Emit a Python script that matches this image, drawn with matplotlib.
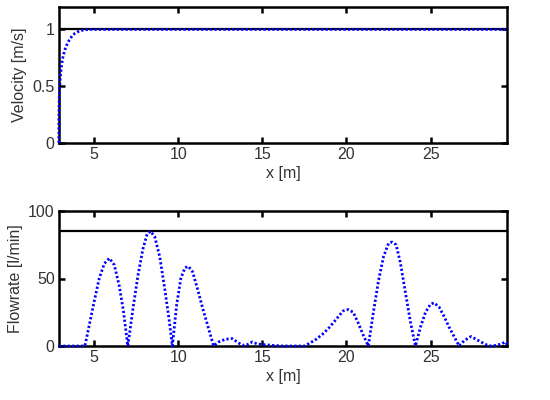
import matplotlib
matplotlib.use('Agg')
import matplotlib.pyplot as plt

# velocity along x (top panel)
vel_x = [2.9, 2.9, 2.91, 2.93, 2.96, 3.0, 3.05, 3.12, 3.2, 3.3, 3.42, 3.55, 3.7, 3.85,
         4.0, 4.2, 4.4, 4.7, 5.2, 29.55]
vel_y = [0.0, 0.2, 0.3, 0.42, 0.52, 0.6, 0.67, 0.74, 0.79, 0.84, 0.88, 0.915, 0.945, 0.965,
         0.978, 0.99, 0.996, 1.0, 1.0, 1.0]
vel_ref = 1.0

# flowrate along x (bottom panel)
flow_x = [2.9, 4.45, 4.7, 5.0, 5.3, 5.6, 5.9, 6.2, 6.5, 6.75, 7.0,
          7.3, 7.6, 7.9, 8.15, 8.35, 8.6, 8.9, 9.2, 9.45, 9.65,
          9.9, 10.15, 10.4, 10.6, 10.85, 11.15, 11.45, 11.8, 12.1,
          12.4, 12.8, 13.2, 13.5, 13.8, 14.1, 14.4, 14.7, 15.1, 15.6, 16.2, 17.5,
          17.8, 18.2, 18.6, 19.0, 19.4, 19.8, 20.1, 20.4, 20.7, 21.0, 21.3,
          21.6, 21.9, 22.2, 22.5, 22.7, 22.95, 23.2, 23.5, 23.8, 24.1,
          24.4, 24.7, 25.0, 25.2, 25.5, 25.8, 26.1, 26.4, 26.7,
          27.0, 27.4, 27.7, 28.0, 28.3, 28.6, 28.9, 29.2, 29.45, 29.55]
flow_y = [0, 0, 15, 33, 50, 61, 65, 60, 44, 25, 0,
          27, 52, 72, 83, 85, 81, 66, 42, 20, 0,
          30, 50, 58, 59, 55, 42, 28, 13, 0,
          3, 5, 5.5, 3, 0.5, 1, 3, 1.5, 1, 0.5, 0, 0,
          2, 5, 9, 14, 20, 26, 27, 25, 17, 8, 0,
          25, 48, 66, 76, 77, 75, 62, 40, 18, 0,
          14, 25, 31, 32, 29, 22, 14, 7, 0,
          4, 7, 5, 3, 1, 0, 0.5, 1.5, 3, 1]
flow_ref = 85

plt.rcParams['font.family'] = ['Liberation Sans', 'DejaVu Sans']
fs = 11.5
txt = '#333333'

fig = plt.figure(figsize=(5.5, 4), dpi=100)
ax1 = fig.add_axes([0.107, 0.643, 0.815, 0.340])
ax2 = fig.add_axes([0.107, 0.135, 0.815, 0.3375])


def style(ax):
    for s in ax.spines.values():
        s.set_linewidth(1.8)
        s.set_color('black')
    ax.tick_params(direction='in', top=True, right=True, length=4, width=1.8,
                   colors='black', labelcolor=txt, labelsize=fs, pad=3)
    ax.set_xlim(2.9, 29.55)
    ax.set_xticks([5, 10, 15, 20, 25])
    ax.set_xlabel('x [m]', color=txt, fontsize=fs, labelpad=3)


ax1.axhline(vel_ref, color='black', lw=1.6)
ax1.plot(vel_x, vel_y, color='#0000ff', lw=2, linestyle=(0, (0.8, 0.8)),
         zorder=3, clip_on=False)
ax1.set_ylim(0, 1.2)
ax1.set_yticks([0, 0.5, 1])
ax1.set_yticklabels(['0', '0.5', '1'])
ax1.set_ylabel('Velocity [m/s]', color=txt, fontsize=fs, labelpad=4)
style(ax1)

ax2.axhline(flow_ref, color='black', lw=1.6)
ax2.plot(flow_x, flow_y, color='#0000ff', lw=2, linestyle=(0, (0.8, 0.8)),
         zorder=3, clip_on=False)
ax2.set_ylim(0, 100)
ax2.set_yticks([0, 50, 100])
ax2.set_ylabel('Flowrate [l/min]', color=txt, fontsize=fs, labelpad=4)
style(ax2)

fig.savefig('out.png', dpi=100)
